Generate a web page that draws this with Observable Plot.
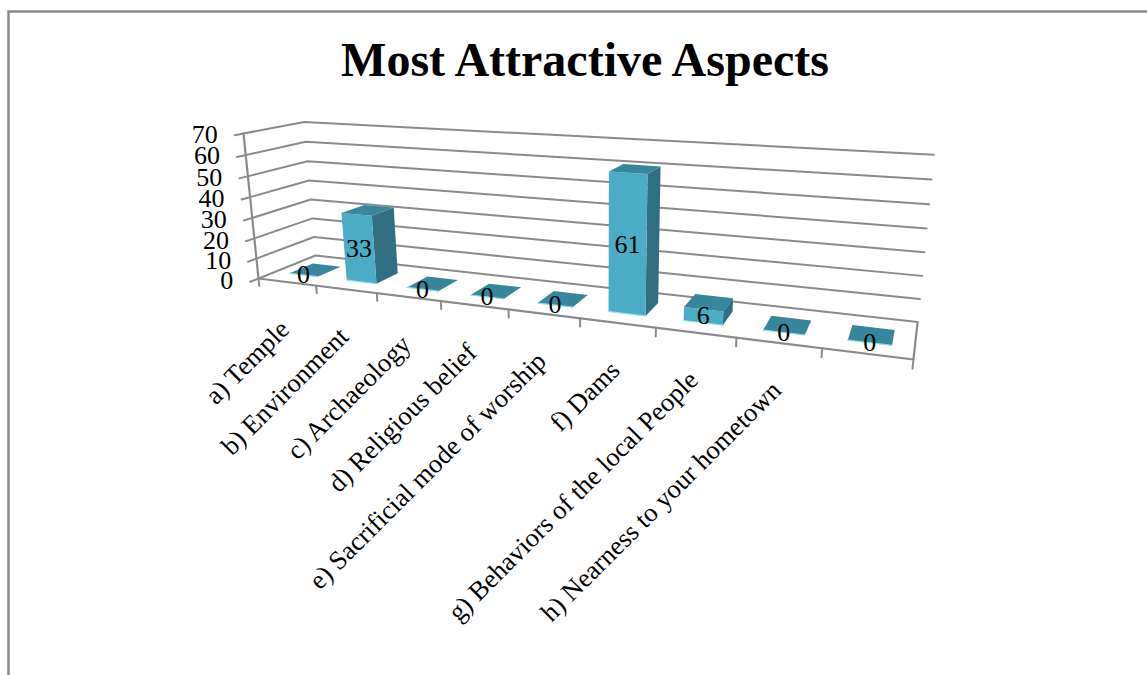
<!DOCTYPE html>
<html>
<head>
<meta charset="utf-8">
<script src="https://cdn.jsdelivr.net/npm/d3@7"></script>
<script src="https://cdn.jsdelivr.net/npm/@observablehq/plot@0.6"></script>
<style>
  html, body { margin: 0; padding: 0; background: #fff; }
</style>
</head>
<body>
<div id="chart"></div>
<script>
// Survey answers, one column per answer option
const categories = [
  "a) Temple",
  "b) Environment",
  "c) Archaeology",
  "d) Religious belief",
  "e) Sacrificial mode of worship",
  "f) Dams",
  "g) Behaviors of the local People",
  "h) Nearness to your hometown",
  ""
];
const values = [0, 33, 0, 0, 0, 61, 6, 0, 0];
const valueTicks = [0, 10, 20, 30, 40, 50, 60, 70];
const chartTitle = "Most Attractive Aspects";

const width = 1147;
const height = 675;

// Colours of the three visible column faces and of the chart furniture
const frontFace = "#4bacc6";
const sideFace = "#2f6f81";
const topFace = "#38869b";
const frontEdge = "#8fdfee";
const gridColor = "#8a8a8a";
const serif = "'Liberation Serif', 'Times New Roman', serif";

// Camera: a homography from chart space (slot u, value v, depth d) to the page
function project(u, v, d) {
  const w = 1 - 0.02538 * u - 0.0006 * v + 0.0894 * d;
  return {
    x: (258 + 49.6 * u - 0.36 * v + 85.2 * d) / w,
    y: (278 - 0.11 * u - 2.151 * v - 0.2 * d) / w
  };
}

// Slot positions come from a band scale, so a column fills its share of a slot
const slot = Plot.scale({
  x: {type: "band", domain: d3.range(categories.length), range: [0, categories.length], paddingInner: 0.5, paddingOuter: 0.25, align: 0.5}
});
const slotStart = (i) => slot.apply(i);
const slotWidth = slot.bandwidth;
const depthFront = 0.28;
const depthBack = 0.7;
const tickDepth = -0.13;
const tickDrop = -3.7;

const vMax = d3.max(valueTicks);
const uMax = categories.length;

// Wall and floor gridlines: left wall then back wall at each tick value
const gridlines = valueTicks.flatMap((v) => [
  {id: v, ...project(0, v, tickDepth)},
  {id: v, ...project(0, v, 1)},
  {id: v, ...project(uMax, v, 1)}
]);
const valueAxis = [project(0, 0, 0), project(0, vMax, 0)];
const floorEdge = [project(0, 0, 0), project(uMax, 0, 0), project(uMax, 0, 1)];
const slotTicks = d3.range(uMax + 1).flatMap((u) => [
  {id: u, ...project(u, 0, 0)},
  {id: u, ...project(u, tickDrop, 0)}
]);

// Column faces; a zero value collapses to its top face
const faces = values.flatMap((value, i) => {
  const u0 = slotStart(i);
  const u1 = u0 + slotWidth;
  const face = (name, fill, corners) =>
    corners.map(([u, v, d]) => ({id: `${i}-${name}`, fill, ...project(u, v, d)}));
  return [
    ...face("side", sideFace, [[u1, 0, depthFront], [u1, 0, depthBack], [u1, value, depthBack], [u1, value, depthFront]]),
    ...face("front", frontFace, [[u0, 0, depthFront], [u1, 0, depthFront], [u1, value, depthFront], [u0, value, depthFront]]),
    ...face("top", topFace, [[u0, value, depthFront], [u1, value, depthFront], [u1, value, depthBack], [u0, value, depthBack]])
  ];
});
const baseEdges = values.flatMap((value, i) => [
  {id: i, ...project(slotStart(i), 0, depthFront)},
  {id: i, ...project(slotStart(i) + slotWidth, 0, depthFront)}
]);

// Labels: value in the middle of the column's front, names under the floor
const valueLabels = values.map((value, i) => ({
  text: String(value),
  ...project(slotStart(i) + slotWidth / 2, value / 2, depthFront)
}));
const tickLabels = valueTicks.map((v) => ({text: String(v), ...project(0, v, tickDepth)}));
const slotLabels = categories.map((text, i) => ({text, ...project(i + 0.5, 0, 0)}));

const chart = Plot.plot({
  width,
  height,
  margin: 0,
  x: {type: "identity", axis: null},
  y: {type: "identity", axis: null},
  color: {type: "identity"},
  style: {fontFamily: serif, background: "#fff", color: "#000"},
  marks: [
    Plot.frame({stroke: "#8a8a8a", strokeWidth: 2.5, insetTop: 11, insetLeft: 8, insetRight: -10, insetBottom: -10}),
    Plot.line(gridlines, {x: "x", y: "y", z: "id", stroke: gridColor, strokeWidth: 2}),
    Plot.line(valueAxis, {x: "x", y: "y", stroke: gridColor, strokeWidth: 2.2}),
    Plot.line(floorEdge, {x: "x", y: "y", stroke: gridColor, strokeWidth: 2.2}),
    Plot.line(slotTicks, {x: "x", y: "y", z: "id", stroke: gridColor, strokeWidth: 2}),
    Plot.line(faces, {x: "x", y: "y", z: "id", fill: "fill", stroke: null, curve: "linear-closed"}),
    Plot.line(baseEdges, {x: "x", y: "y", z: "id", stroke: frontEdge, strokeWidth: 1.2}),
    Plot.text(tickLabels, {x: "x", y: "y", text: "text", textAnchor: "end", dx: -17, dy: -1, fontSize: 26, lineWidth: Infinity}),
    Plot.text(slotLabels, {x: "x", y: "y", text: "text", textAnchor: "end", rotate: -45, dx: -2, dy: 43, fontSize: 26.5, lineWidth: Infinity}),
    Plot.text(valueLabels, {x: "x", y: "y", text: "text", fontSize: 26, lineWidth: Infinity}),
    Plot.text([chartTitle], {frameAnchor: "top", text: (d) => d, dx: 11, dy: 60, fontSize: 48, fontWeight: "bold", lineAnchor: "middle", lineWidth: Infinity})
  ]
});
document.getElementById("chart").appendChild(chart);
</script>
</body>
</html>
